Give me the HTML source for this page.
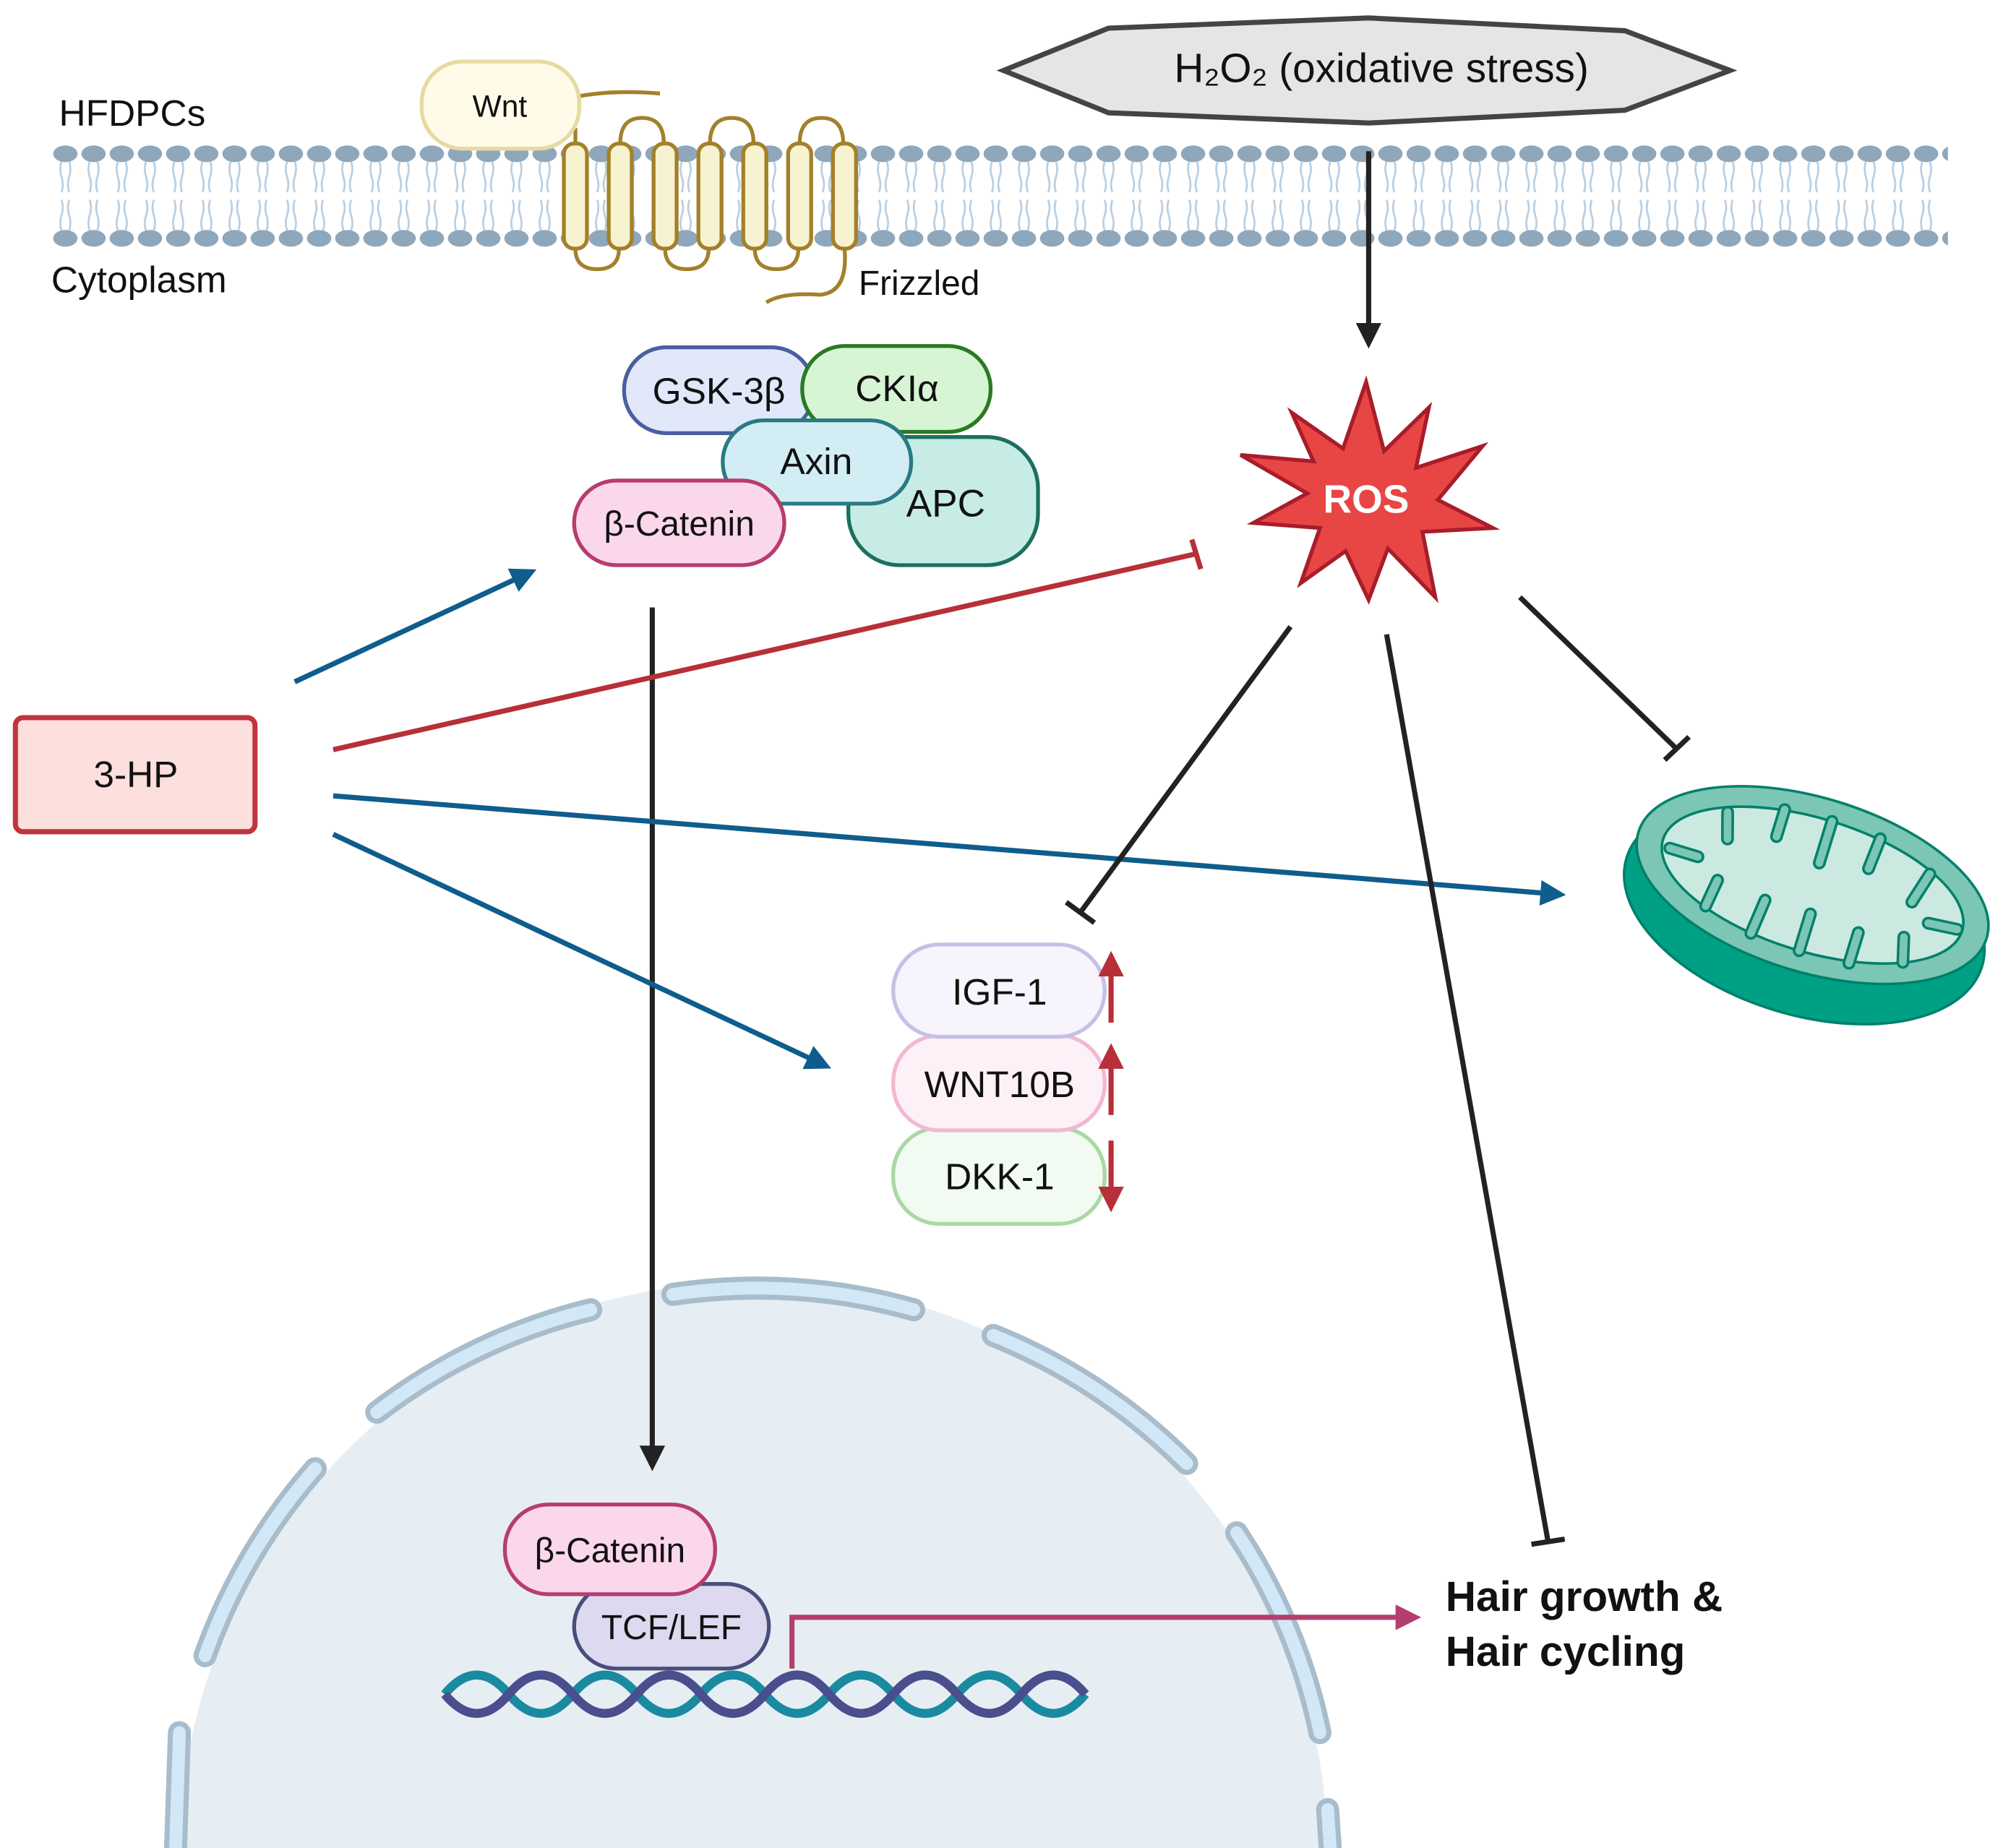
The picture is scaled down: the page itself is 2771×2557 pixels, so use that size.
<!DOCTYPE html>
<html><head><meta charset="utf-8"><style>html,body{margin:0;padding:0;background:#fff;width:2771px;height:2557px;overflow:hidden}svg{display:block}text{font-family:"Liberation Sans",sans-serif}</style></head>
<body>
<svg width="2771" height="2557" viewBox="0 0 1563 1442" preserveAspectRatio="none" xmlns="http://www.w3.org/2000/svg">
<defs>
<pattern id="mem" x="40" y="0" width="22" height="1442" patternUnits="userSpaceOnUse">
<g stroke="#b6cde2" stroke-width="1.5" fill="none">
<path d="M8 126 q-2 6 0 12 q2 6 0 12"/><path d="M14 126 q2 6 0 12 q-2 6 0 12"/>
<path d="M8 180 q-2 -6 0 -12 q2 -6 0 -12"/><path d="M14 180 q2 -6 0 -12 q-2 -6 0 -12"/>
</g>
<ellipse cx="11" cy="120" rx="9.5" ry="6.5" fill="#8fa7bb"/>
<ellipse cx="11" cy="186" rx="9.5" ry="6.5" fill="#8fa7bb"/>
</pattern>
<marker id="ab" viewBox="0 0 10 10" refX="8" refY="5" markerWidth="5" markerHeight="5" orient="auto"><path d="M0 0L10 5L0 10z" fill="#0e5d8c"/></marker>
<marker id="ak" viewBox="0 0 10 10" refX="8" refY="5" markerWidth="5" markerHeight="5" orient="auto"><path d="M0 0L10 5L0 10z" fill="#222"/></marker>
<marker id="ap" viewBox="0 0 10 10" refX="8" refY="5" markerWidth="5" markerHeight="5" orient="auto"><path d="M0 0L10 5L0 10z" fill="#b63d6e"/></marker>
<marker id="ar" viewBox="0 0 10 10" refX="8" refY="5" markerWidth="5" markerHeight="5" orient="auto"><path d="M0 0L10 5L0 10z" fill="#b72f38"/></marker>
<clipPath id="cl"><rect width="1563" height="1442"/></clipPath>
</defs>
<g clip-path="url(#cl)">
<rect width="1563" height="1442" fill="#fff"/>

<!-- nucleus -->
<circle cx="588" cy="1448" r="448" fill="#e6eef3"/>
<g fill="none" stroke-linecap="round">
<g stroke="#a8bccb" stroke-width="18">
<path d="M160 1292 A448 448 0 0 1 246 1146"/>
<path d="M294 1102 A448 448 0 0 1 461 1022"/>
<path d="M525 1010 A448 448 0 0 1 713 1022"/>
<path d="M775 1042 A448 448 0 0 1 926 1142"/>
<path d="M965 1196 A448 448 0 0 1 1030 1352"/>
<path d="M1036 1412 L1038 1442"/>
<path d="M140 1352 L137 1442"/>
</g>
<g stroke="#d3e8f7" stroke-width="10">
<path d="M160 1292 A448 448 0 0 1 246 1146"/>
<path d="M294 1102 A448 448 0 0 1 461 1022"/>
<path d="M525 1010 A448 448 0 0 1 713 1022"/>
<path d="M775 1042 A448 448 0 0 1 926 1142"/>
<path d="M965 1196 A448 448 0 0 1 1030 1352"/>
<path d="M1036 1412 L1038 1442"/>
<path d="M140 1352 L137 1442"/>
</g>
</g>

<!-- membrane -->
<rect x="40" y="110" width="1480" height="86" fill="url(#mem)"/>

<!-- Frizzled -->
<g fill="none" stroke="#a3802a" stroke-width="3">
<path d="M452 75 Q480 70 515 73"/>
<path d="M484 112 q0 -20 17 -20 q17 0 17 20"/>
<path d="M554 112 q0 -20 17 -20 q17 0 17 20"/>
<path d="M624 112 q0 -20 17 -20 q17 0 17 20"/>
<path d="M449 194 q0 16 17 16 q17 0 17 -16"/>
<path d="M519 194 q0 16 17 16 q17 0 17 -16"/>
<path d="M589 194 q0 16 17 16 q17 0 17 -16"/>
<path d="M659 194 Q662 228 640 230 Q610 228 598 236"/>
<path d="M449 112 L449 100"/>
</g>
<g fill="#f7f3d0" stroke="#a3802a" stroke-width="3">
<rect x="440" y="112" width="18" height="82" rx="8"/>
<rect x="475" y="112" width="18" height="82" rx="8"/>
<rect x="510" y="112" width="18" height="82" rx="8"/>
<rect x="545" y="112" width="18" height="82" rx="8"/>
<rect x="580" y="112" width="18" height="82" rx="8"/>
<rect x="615" y="112" width="18" height="82" rx="8"/>
<rect x="650" y="112" width="18" height="82" rx="8"/>
</g>
<rect x="329" y="48" width="123" height="68" rx="32" fill="#fffbe8" stroke="#e8d9a0" stroke-width="3"/>
<text x="390" y="91" font-size="24" text-anchor="middle" fill="#111">Wnt</text>
<text x="46" y="98" font-size="29" fill="#111">HFDPCs</text>
<text x="40" y="228" font-size="29" fill="#111">Cytoplasm</text>
<text x="670" y="230" font-size="27" fill="#111">Frizzled</text>

<!-- H2O2 -->
<polygon points="783,55 865,22 1068,14 1268,24 1350,55 1268,86 1068,96 865,88" fill="#e5e5e5" stroke="#444" stroke-width="4"/>
<text x="1078" y="64" font-size="32" text-anchor="middle" fill="#111">H₂O₂ (oxidative stress)</text>
<line x1="1068" y1="118" x2="1068" y2="268" stroke="#222" stroke-width="4" marker-end="url(#ak)"/>

<!-- ROS -->
<polygon points="1066,298 1080,352 1115,318 1105,365 1157,348 1122,390 1165,412 1110,415 1120,466 1083,428 1068,468 1050,430 1015,455 1030,412 978,408 1020,385 968,355 1025,360 1008,322 1048,350" fill="#e84545" stroke="#a81d2a" stroke-width="3"/>
<text x="1066" y="400" font-size="31" font-weight="bold" text-anchor="middle" fill="#fff">ROS</text>

<!-- destruction complex -->
<rect x="487" y="271" width="148" height="67" rx="33" fill="#e0e8fa" stroke="#4a5f9e" stroke-width="3"/>
<text x="561" y="315" font-size="29" text-anchor="middle" fill="#111">GSK-3β</text>
<rect x="662" y="341" width="148" height="100" rx="40" fill="#c7ece6" stroke="#1d6f5e" stroke-width="3"/>
<text x="738" y="403" font-size="30" text-anchor="middle" fill="#111">APC</text>
<rect x="626" y="270" width="147" height="67" rx="33" fill="#d7f5d5" stroke="#2a7a22" stroke-width="3"/>
<text x="700" y="313" font-size="29" text-anchor="middle" fill="#111">CKIα</text>
<rect x="564" y="328" width="147" height="65" rx="32" fill="#d2eef4" stroke="#2a7a84" stroke-width="3"/>
<text x="637" y="370" font-size="29" text-anchor="middle" fill="#111">Axin</text>
<rect x="448" y="375" width="164" height="66" rx="33" fill="#fbd7ec" stroke="#b63d6e" stroke-width="3"/>
<text x="530" y="418" font-size="27" text-anchor="middle" fill="#111">β-Catenin</text>

<line x1="509" y1="474" x2="509" y2="1144" stroke="#222" stroke-width="4" marker-end="url(#ak)"/>

<!-- 3-HP -->
<rect x="12" y="560" width="187" height="89" rx="6" fill="#fddfdd" stroke="#c0343d" stroke-width="4"/>
<text x="106" y="614" font-size="29" text-anchor="middle" fill="#111">3-HP</text>
<g stroke="#0e5d8c" stroke-width="4">
<line x1="230" y1="532" x2="415" y2="446" marker-end="url(#ab)"/>
<line x1="260" y1="621" x2="1218" y2="698" marker-end="url(#ab)"/>
<line x1="260" y1="651" x2="645" y2="832" marker-end="url(#ab)"/>
</g>
<line x1="260" y1="585" x2="934" y2="432" stroke="#b72f38" stroke-width="4"/>
<line x1="930" y1="421" x2="937" y2="444" stroke="#b72f38" stroke-width="4"/>

<!-- ROS inhibitions -->
<g stroke="#222" stroke-width="4">
<line x1="1007" y1="489" x2="843" y2="712"/><line x1="832" y1="704" x2="854" y2="720"/>
<line x1="1082" y1="495" x2="1208" y2="1203"/><line x1="1195" y1="1205" x2="1221" y2="1201"/>
<line x1="1186" y1="466" x2="1308" y2="584"/><line x1="1299" y1="593" x2="1318" y2="575"/>
</g>

<!-- genes -->
<rect x="697" y="880" width="165" height="75" rx="36" fill="#f2fbf1" stroke="#a9d8a4" stroke-width="3"/>
<text x="780" y="928" font-size="29" text-anchor="middle" fill="#111">DKK-1</text>
<rect x="697" y="808" width="165" height="74" rx="36" fill="#fdf1f7" stroke="#f2b8d2" stroke-width="3"/>
<text x="780" y="856" font-size="29" text-anchor="middle" fill="#111">WNT10B</text>
<rect x="697" y="737" width="165" height="72" rx="36" fill="#f7f4fd" stroke="#c5c0e8" stroke-width="3"/>
<text x="780" y="784" font-size="29" text-anchor="middle" fill="#111">IGF-1</text>
<g stroke="#b72f38" stroke-width="4">
<line x1="867" y1="798" x2="867" y2="746" marker-end="url(#ar)"/>
<line x1="867" y1="870" x2="867" y2="818" marker-end="url(#ar)"/>
<line x1="867" y1="890" x2="867" y2="942" marker-end="url(#ar)"/>
</g>

<!-- mitochondrion -->
<g transform="rotate(17 1410 705)">
<ellipse cx="1410" cy="712" rx="145" ry="80" fill="#00a085" stroke="#00806a" stroke-width="2"/>
<ellipse cx="1410" cy="690" rx="142" ry="68" fill="#7cc6b6" stroke="#00806a" stroke-width="2"/>
<ellipse cx="1410" cy="690" rx="122" ry="52" fill="#cbe9e1" stroke="#00806a" stroke-width="2"/>
<g stroke="#00806a" stroke-width="10" stroke-linecap="round">
<line x1="1330" y1="655" x2="1336" y2="675"/><line x1="1372" y1="640" x2="1372" y2="662"/>
<line x1="1410" y1="638" x2="1410" y2="672"/><line x1="1450" y1="640" x2="1448" y2="665"/>
<line x1="1495" y1="655" x2="1488" y2="680"/><line x1="1528" y1="690" x2="1505" y2="692"/>
<line x1="1295" y1="695" x2="1318" y2="695"/><line x1="1335" y1="730" x2="1338" y2="708"/>
<line x1="1375" y1="740" x2="1378" y2="712"/><line x1="1415" y1="742" x2="1415" y2="712"/>
<line x1="1455" y1="740" x2="1455" y2="715"/><line x1="1495" y1="727" x2="1490" y2="708"/>
</g>
<g stroke="#7cc6b6" stroke-width="6" stroke-linecap="round">
<line x1="1330" y1="655" x2="1336" y2="675"/><line x1="1372" y1="640" x2="1372" y2="662"/>
<line x1="1410" y1="638" x2="1410" y2="672"/><line x1="1450" y1="640" x2="1448" y2="665"/>
<line x1="1495" y1="655" x2="1488" y2="680"/><line x1="1528" y1="690" x2="1505" y2="692"/>
<line x1="1295" y1="695" x2="1318" y2="695"/><line x1="1335" y1="730" x2="1338" y2="708"/>
<line x1="1375" y1="740" x2="1378" y2="712"/><line x1="1415" y1="742" x2="1415" y2="712"/>
<line x1="1455" y1="740" x2="1455" y2="715"/><line x1="1495" y1="727" x2="1490" y2="708"/>
</g>
</g>

<!-- nucleus contents -->
<g fill="none" stroke-width="7">
<path d="M347 1322 q25 -30 50 0 t50 0 t50 0 t50 0 t50 0 t50 0 t50 0 t50 0 t50 0 t50 0" stroke="#1a8aa0"/>
<path d="M347 1322 q25 30 50 0 t50 0 t50 0 t50 0 t50 0 t50 0 t50 0 t50 0 t50 0 t50 0" stroke="#4a4e8c"/>
</g>
<rect x="448" y="1236" width="152" height="66" rx="33" fill="#dcd9f0" stroke="#4a4e7c" stroke-width="3"/>
<text x="524" y="1279" font-size="27" text-anchor="middle" fill="#111">TCF/LEF</text>
<rect x="394" y="1174" width="164" height="70" rx="34" fill="#fbd7ec" stroke="#b63d6e" stroke-width="3"/>
<text x="476" y="1219" font-size="27" text-anchor="middle" fill="#111">β-Catenin</text>
<polyline points="618,1302 618,1262 1105,1262" fill="none" stroke="#b63d6e" stroke-width="4" marker-end="url(#ap)"/>
<text x="1128" y="1257" font-size="33" font-weight="bold" fill="#111">Hair growth &amp;</text>
<text x="1128" y="1300" font-size="33" font-weight="bold" fill="#111">Hair cycling</text>
</g>
</svg>
</body></html>
